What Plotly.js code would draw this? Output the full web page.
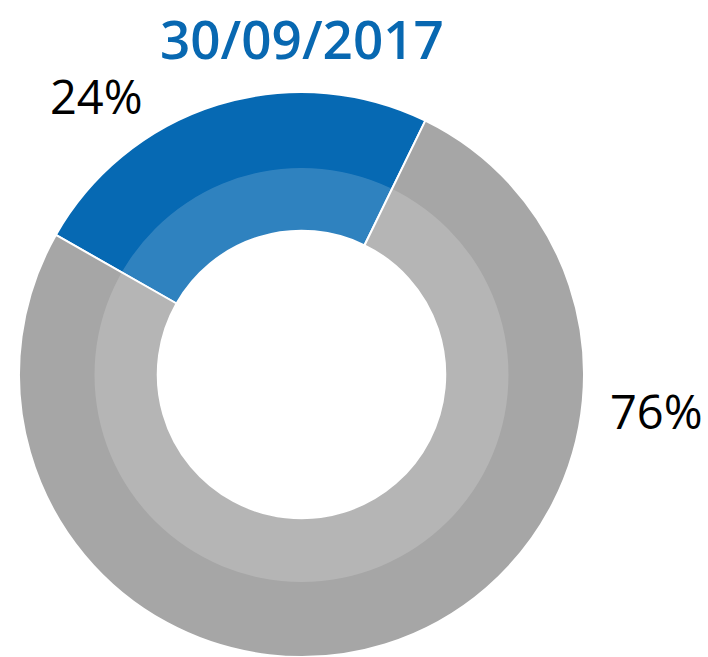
<!DOCTYPE html>
<html>
<head>
<meta charset="utf-8">
<script src="https://cdn.plot.ly/plotly-3.0.1.min.js"></script>
<style>html,body{margin:0;padding:0;background:#fff;}#chart{width:708px;height:657px;}</style>
</head>
<body>
<div id="chart"></div>
<script>
const categories = ["Part A", "Part B"];
const values = [24, 76];
const pctLabels = ["24%", "76%"];
const titleText = "30/09/2017";
const sliceColors = ["#0669b3", "#a6a6a6"];
const overlayColor = "rgba(255,255,255,0.17)";

const W = 708, H = 657;
const cx = 301.5, cy = 375, rOuter = 283, rInner = 207, rHole = 144;
const rot = -60.4;
const traces = [
  {
    type: "pie", labels: categories, values: values, sort: false,
    direction: "clockwise", rotation: rot, hole: rHole / rOuter,
    marker: {colors: sliceColors, line: {color: "#ffffff", width: 2}},
    textinfo: "none", hoverinfo: "label+percent",
    domain: {x: [(cx - rOuter) / W, (cx + rOuter) / W], y: [0, 1 - (cy - rOuter) / H]},
    showlegend: false
  },
  {
    type: "pie", labels: ["overlay"], values: [1], sort: false,
    hole: rHole / rInner,
    marker: {colors: [overlayColor], line: {width: 0}},
    textinfo: "none", hoverinfo: "skip",
    domain: {x: [(cx - rInner) / W, (cx + rInner) / W], y: [1 - (cy + rInner) / H, 1 - (cy - rInner) / H]},
    showlegend: false
  }
];
const layout = {
  width: W, height: H,
  margin: {l: 0, r: 0, t: 0, b: 0},
  paper_bgcolor: "#ffffff",
  showlegend: false,
  annotations: [
    {text: titleText, x: 302 / W, y: 1, xref: "paper", yref: "paper",
     showarrow: false, xanchor: "center", yanchor: "top",
     font: {family: "Open Sans, sans-serif", size: 53, weight: 600, color: "#0868b1"}},
    {text: pctLabels[0], x: 96 / W, y: 1 - 96 / H, xref: "paper", yref: "paper",
     showarrow: false, xanchor: "center", yanchor: "middle",
     font: {family: "Open Sans, sans-serif", size: 47, color: "#000000"}},
    {text: pctLabels[1], x: 656 / W, y: 1 - 411 / H, xref: "paper", yref: "paper",
     showarrow: false, xanchor: "center", yanchor: "middle",
     font: {family: "Open Sans, sans-serif", size: 47, color: "#000000"}}
  ]
};
Plotly.newPlot("chart", traces, layout, {displayModeBar: false, staticPlot: true});
</script>
</body>
</html>
